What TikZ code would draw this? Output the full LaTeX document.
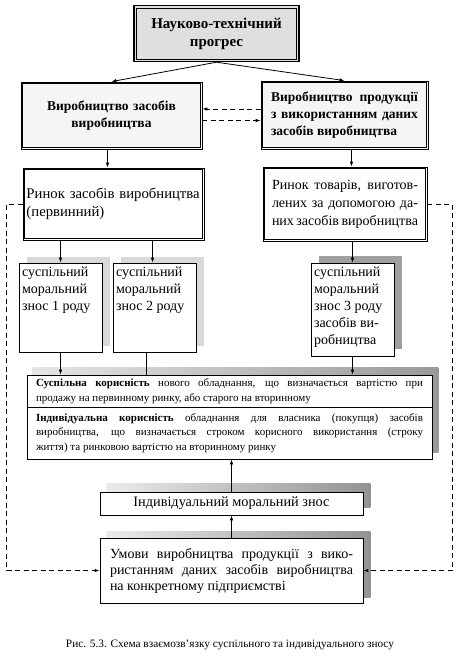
\documentclass[tikz,border=0pt]{standalone}
\usepackage{fontspec}
\setmainfont{Liberation Serif}
\usetikzlibrary{arrows.meta,backgrounds,calc}
\hyphenpenalty=10000
\tolerance=9999
\emergencystretch=20pt
\tikzset{
  base/.style={draw, line width=0.8pt, fill=white, inner sep=3pt},
  dblg/.style={draw, line width=0.8pt, fill=gray!8, inner sep=3pt},
  dblw/.style={draw, line width=0.8pt, fill=white, inner sep=3pt},
  inb/.style={draw, line width=0.6pt},
  ar/.style={-{Latex[length=5pt,width=3.6pt]}, line width=0.8pt},
  ln/.style={line width=0.8pt},
  dsh/.style={dash pattern=on 5pt off 3.5pt, line width=0.9pt},
  fbig/.style={font=\fontsize{14}{18}\selectfont},
  fbold/.style={font=\fontsize{13.5}{17}\selectfont\bfseries},
  fsmall/.style={font=\fontsize{11}{14.5}\selectfont}
}
\newcommand{\sbx}[2]{\parbox[c][#1][t]{77pt}{\raggedright\vspace*{4pt}#2}}
\begin{document}
\begin{tikzpicture}[x=1pt,y=-1pt]
\useasboundingbox (0,0) rectangle (462,667);

% top
\node[draw, line width=1.4pt, fill=gray!25,
      minimum width=165pt, minimum height=56pt, text width=150pt, align=center,
      font=\fontsize{15}{18}\selectfont\bfseries]
  (top) at (216.5,33.5) {Науково-технічний\\прогрес};

% level 1
\node[dblg, minimum width=181pt, minimum height=67pt, text width=165pt, align=center, fbold]
  (L1) at (111.5,115.5) {Виробництво засобів\\виробництва};
\node[dblg, minimum width=167pt, minimum height=68pt, text width=147pt, inner xsep=10pt, align=justify,
      font=\fontsize{13.5}{17}\selectfont\bfseries]
  (R1) at (344.5,115) {Виробництво продукції\linebreak з використанням даних\linebreak засобів виробництва};

% level 2
\node[dblw, minimum width=181pt, minimum height=72pt, text width=174pt, inner xsep=3.5pt, align=left,
      font=\fontsize{14.7}{18}\selectfont]
  (L2) at (113.5,204) {Ринок засобів виробництва\\(первинний)};
\node[dblw, minimum width=164pt, minimum height=74pt, text width=146pt, inner xsep=9pt, align=justify, fbig]
  (R2) at (345,204) {Ринок товарів, виготов-\linebreak лених за допомогою да-\linebreak них засобів виробництва};

% inner lines of the double borders
\draw[line width=0.7pt] ([shift={(3.2,-3.2)}]top.south west) rectangle ([shift={(-3.2,3.2)}]top.north east);
\foreach \n in {L1,R1,L2,R2}
  \draw[inb] ([shift={(2,-2)}]\n.south west) rectangle ([shift={(-2,2)}]\n.north east);

% small boxes
\node[base, inner xsep=3pt, inner ysep=0pt, font=\fontsize{14}{17}\selectfont]
  (S1) at (60.5,307.5) {\sbx{89pt}{суспільний\\моральний\\знос 1 роду}};
\node[base, inner xsep=3pt, inner ysep=0pt, font=\fontsize{14}{17}\selectfont]
  (S2) at (154.5,307.5) {\sbx{89pt}{суспільний\\моральний\\знос 2 роду}};
\node[base, inner xsep=3pt, inner ysep=0pt, font=\fontsize{14}{17}\selectfont]
  (S3) at (352.5,309.5) {\sbx{93pt}{суспільний\\моральний\\знос 3 роду\\засобів ви-\\робництва}};

% big box
\node[base, minimum width=405pt, minimum height=32pt, text width=387pt, inner xsep=9pt, inner ysep=1pt, align=justify, fsmall]
  (B1) at (229.5,391) {\textbf{Суспільна корисність} нового обладнання, що визначається вартістю при\linebreak продажу на первинному ринку, або старого на вторинному};
\node[base, minimum width=405pt, minimum height=52pt, text width=387pt, inner xsep=9pt, inner ysep=1pt, align=justify, fsmall]
  (B2) at (229.5,433) {\textbf{Індивідуальна корисність} обладнання для власника (покупця) засобів\linebreak виробництва, що визначається строком корисного використання (строку\linebreak життя) та ринковою вартістю на вторинному ринку};

% bottom boxes
\node[base, minimum width=263pt, minimum height=23pt, inner ysep=1pt, align=center, font=\fontsize{14.3}{16}\selectfont]
  (I) at (231.5,503.5) {Індивідуальний моральний знос};
\node[base, minimum width=263pt, minimum height=65pt, text width=243pt, inner xsep=10pt, align=justify, font=\fontsize{14}{16}\selectfont]
  (U) at (231.5,570.5) {Умови виробництва продукції з вико-\linebreak ристанням даних засобів виробництва\linebreak на конкретному підприємстві};

% caption
\node[font=\fontsize{11.3}{13}\selectfont, inner sep=0pt] (cap) at (230,645)
  {Рис. 5.3. Схема взаємозв'язку суспільного та індивідуального зносу};

% shadows
\begin{scope}[on background layer]
\fill[gray!30] ([shift={(8,-6)}]S1.south west) rectangle ([shift={(8,-6)}]S1.north east);
\fill[gray!30] ([shift={(8,-6)}]S2.south west) rectangle ([shift={(8,-6)}]S2.north east);
\fill[gray!75] ([shift={(8,-7)}]S3.south west) rectangle ([shift={(8,-7)}]S3.north east);
\shade[left color=gray!20, right color=gray!80] ([shift={(6,-7)}]B2.south west) rectangle ([shift={(6,-7)}]B1.north east);
\shade[left color=gray!15, right color=gray!85] ([shift={(7,-8)}]I.south west) rectangle ([shift={(7,-8)}]I.north east);
\shade[left color=gray!15, right color=gray!85] ([shift={(7,-6)}]U.south west) rectangle ([shift={(7,-6)}]U.north east);
\end{scope}

% connectors
\draw[ar] (top.south) -- (L1.north);
\draw[ar] (top.south) -- (R1.north);
\draw[ar, dsh] ([yshift=6pt]R1.west) -- ([yshift=6pt]R1.west -| L1.east);
\draw[ar, dsh] ([yshift=-5pt]L1.east) -- ([yshift=-5pt]L1.east -| R1.west);
\draw[ar] ([xshift=-4pt]L1.south) -- ([xshift=-4pt]L1.south |- L2.north);
\draw[ar] ([xshift=7pt]R1.south) -- ([xshift=7pt]R1.south |- R2.north);
\draw[ar] (S1.north |- L2.south) -- (S1.north);
\draw[ar] ([xshift=-2pt]S2.north |- L2.south) -- ([xshift=-2pt]S2.north);
\draw[ar] (S3.north |- R2.south) -- (S3.north);
\draw[ar] (S1.south) -- (S1.south |- B1.north);
\draw[ln] ([xshift=-8pt]S2.south) -- ([xshift=-8pt]S2.south |- B1.north);
\draw[ar] (S3.south) -- (S3.south |- B1.north);
\draw[ar] (I.north) -- (I.north |- B2.south);
\draw[ar] (U.north) -- (I.south);
\draw[ar, dsh] (L2.west) -- ++(-16,0) |- (U.west);
\draw[ar, dsh] (R2.east) -- ++(25,0) |- (U.east);
\end{tikzpicture}
\end{document}
